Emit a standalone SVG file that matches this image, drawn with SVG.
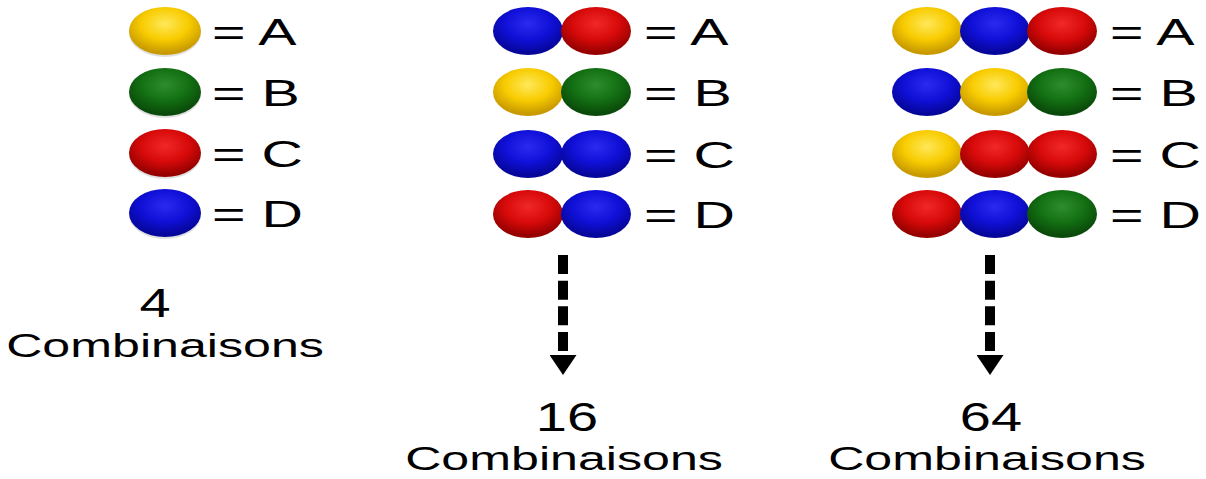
<svg xmlns="http://www.w3.org/2000/svg" width="1206" height="479" viewBox="0 0 1206 479">
<style>
.lbl{font-family:"Liberation Sans",Arial,sans-serif;font-size:37px;fill:#000}
.num{font-family:"Liberation Sans",Arial,sans-serif;font-size:40px;fill:#000;text-anchor:middle}
.cmb{font-family:"Liberation Sans",Arial,sans-serif;font-size:33px;fill:#000;text-anchor:middle}
.dash{stroke:#000;stroke-width:10;stroke-dasharray:19 6.67;fill:none}
.y{fill:url(#gy)}
.g{fill:url(#gg)}
.r{fill:url(#gr)}
.b{fill:url(#gb)}
.sh{fill:#000;opacity:0.12}
</style>
<defs>
<radialGradient id="gy" cx="50%" cy="35%" r="60%">
<stop offset="0" stop-color="#FFE85A"/><stop offset="0.55" stop-color="#F8CC00"/><stop offset="1" stop-color="#C89A00"/>
</radialGradient>
<radialGradient id="gg" cx="50%" cy="35%" r="60%">
<stop offset="0" stop-color="#2E8C2E"/><stop offset="0.55" stop-color="#137013"/><stop offset="1" stop-color="#0A4A0A"/>
</radialGradient>
<radialGradient id="gr" cx="50%" cy="35%" r="60%">
<stop offset="0" stop-color="#F02828"/><stop offset="0.55" stop-color="#D80A0A"/><stop offset="1" stop-color="#960000"/>
</radialGradient>
<radialGradient id="gb" cx="50%" cy="35%" r="60%">
<stop offset="0" stop-color="#2A2AF0"/><stop offset="0.55" stop-color="#1010D8"/><stop offset="1" stop-color="#06069A"/>
</radialGradient>
<marker id="ah" markerUnits="userSpaceOnUse" viewBox="0 0 24 27" refX="0" refY="13.5" markerWidth="24" markerHeight="27" orient="auto">
<path d="M4,0 L24,13.5 L4,27 z" fill="#000"/>
</marker>
</defs>

<g id="col1-A"><ellipse class="sh" cx="165" cy="33" rx="36" ry="24"/><ellipse class="y" cx="165" cy="31" rx="36" ry="24"/><text class="lbl" transform="translate(212,45) scale(1.55,1)">= A</text></g>
<g id="col1-B"><ellipse class="sh" cx="165" cy="94" rx="36" ry="24"/><ellipse class="g" cx="165" cy="92" rx="36" ry="24"/><text class="lbl" transform="translate(212,106) scale(1.55,1)">= B</text></g>
<g id="col1-C"><ellipse class="sh" cx="165" cy="155" rx="36" ry="24"/><ellipse class="r" cx="165" cy="153" rx="36" ry="24"/><text class="lbl" transform="translate(212,167) scale(1.55,1)">= C</text></g>
<g id="col1-D"><ellipse class="sh" cx="165" cy="215" rx="36" ry="24"/><ellipse class="b" cx="165" cy="213" rx="36" ry="24"/><text class="lbl" transform="translate(212,227) scale(1.55,1)">= D</text></g>
<g id="col1-total"><text class="num" transform="translate(155,317) scale(1.4,1)">4</text><text class="cmb" transform="translate(165,357) scale(1.52,1)">Combinaisons</text></g>

<g id="col2-A"><ellipse class="b" cx="528" cy="31" rx="35" ry="24"/><ellipse class="r" cx="596" cy="31" rx="35" ry="24"/><text class="lbl" transform="translate(644,45) scale(1.55,1)">= A</text></g>
<g id="col2-B"><ellipse class="y" cx="528" cy="92" rx="35" ry="24"/><ellipse class="g" cx="596" cy="92" rx="35" ry="24"/><text class="lbl" transform="translate(644,106) scale(1.55,1)">= B</text></g>
<g id="col2-C"><ellipse class="b" cx="528" cy="154" rx="35" ry="24"/><ellipse class="b" cx="596" cy="154" rx="35" ry="24"/><text class="lbl" transform="translate(644,168) scale(1.55,1)">= C</text></g>
<g id="col2-D"><ellipse class="r" cx="528" cy="214" rx="35" ry="24"/><ellipse class="b" cx="596" cy="214" rx="35" ry="24"/><text class="lbl" transform="translate(644,228) scale(1.55,1)">= D</text></g>
<g id="col2-total"><text class="num" transform="translate(567,431) scale(1.4,1)">16</text><text class="cmb" transform="translate(564,470) scale(1.52,1)">Combinaisons</text></g>

<g id="col3-A"><ellipse class="y" cx="927" cy="31" rx="35" ry="24"/><ellipse class="b" cx="995" cy="31" rx="35" ry="24"/><ellipse class="r" cx="1062" cy="31" rx="35" ry="24"/><text class="lbl" transform="translate(1110,45) scale(1.55,1)">= A</text></g>
<g id="col3-B"><ellipse class="b" cx="927" cy="92" rx="35" ry="24"/><ellipse class="y" cx="995" cy="92" rx="35" ry="24"/><ellipse class="g" cx="1062" cy="92" rx="35" ry="24"/><text class="lbl" transform="translate(1110,106) scale(1.55,1)">= B</text></g>
<g id="col3-C"><ellipse class="y" cx="927" cy="154" rx="35" ry="24"/><ellipse class="r" cx="995" cy="154" rx="35" ry="24"/><ellipse class="r" cx="1062" cy="154" rx="35" ry="24"/><text class="lbl" transform="translate(1110,168) scale(1.55,1)">= C</text></g>
<g id="col3-D"><ellipse class="r" cx="927" cy="214" rx="35" ry="24"/><ellipse class="b" cx="995" cy="214" rx="35" ry="24"/><ellipse class="g" cx="1062" cy="214" rx="35" ry="24"/><text class="lbl" transform="translate(1110,228) scale(1.55,1)">= D</text></g>
<g id="col3-total"><text class="num" transform="translate(991,431) scale(1.4,1)">64</text><text class="cmb" transform="translate(987,470) scale(1.52,1)">Combinaisons</text></g>

<g id="connectors">
<line class="dash" x1="563" y1="255" x2="563" y2="351" marker-end="url(#ah)"/>
<line class="dash" x1="990" y1="255" x2="990" y2="351" marker-end="url(#ah)"/>
</g>
</svg>
